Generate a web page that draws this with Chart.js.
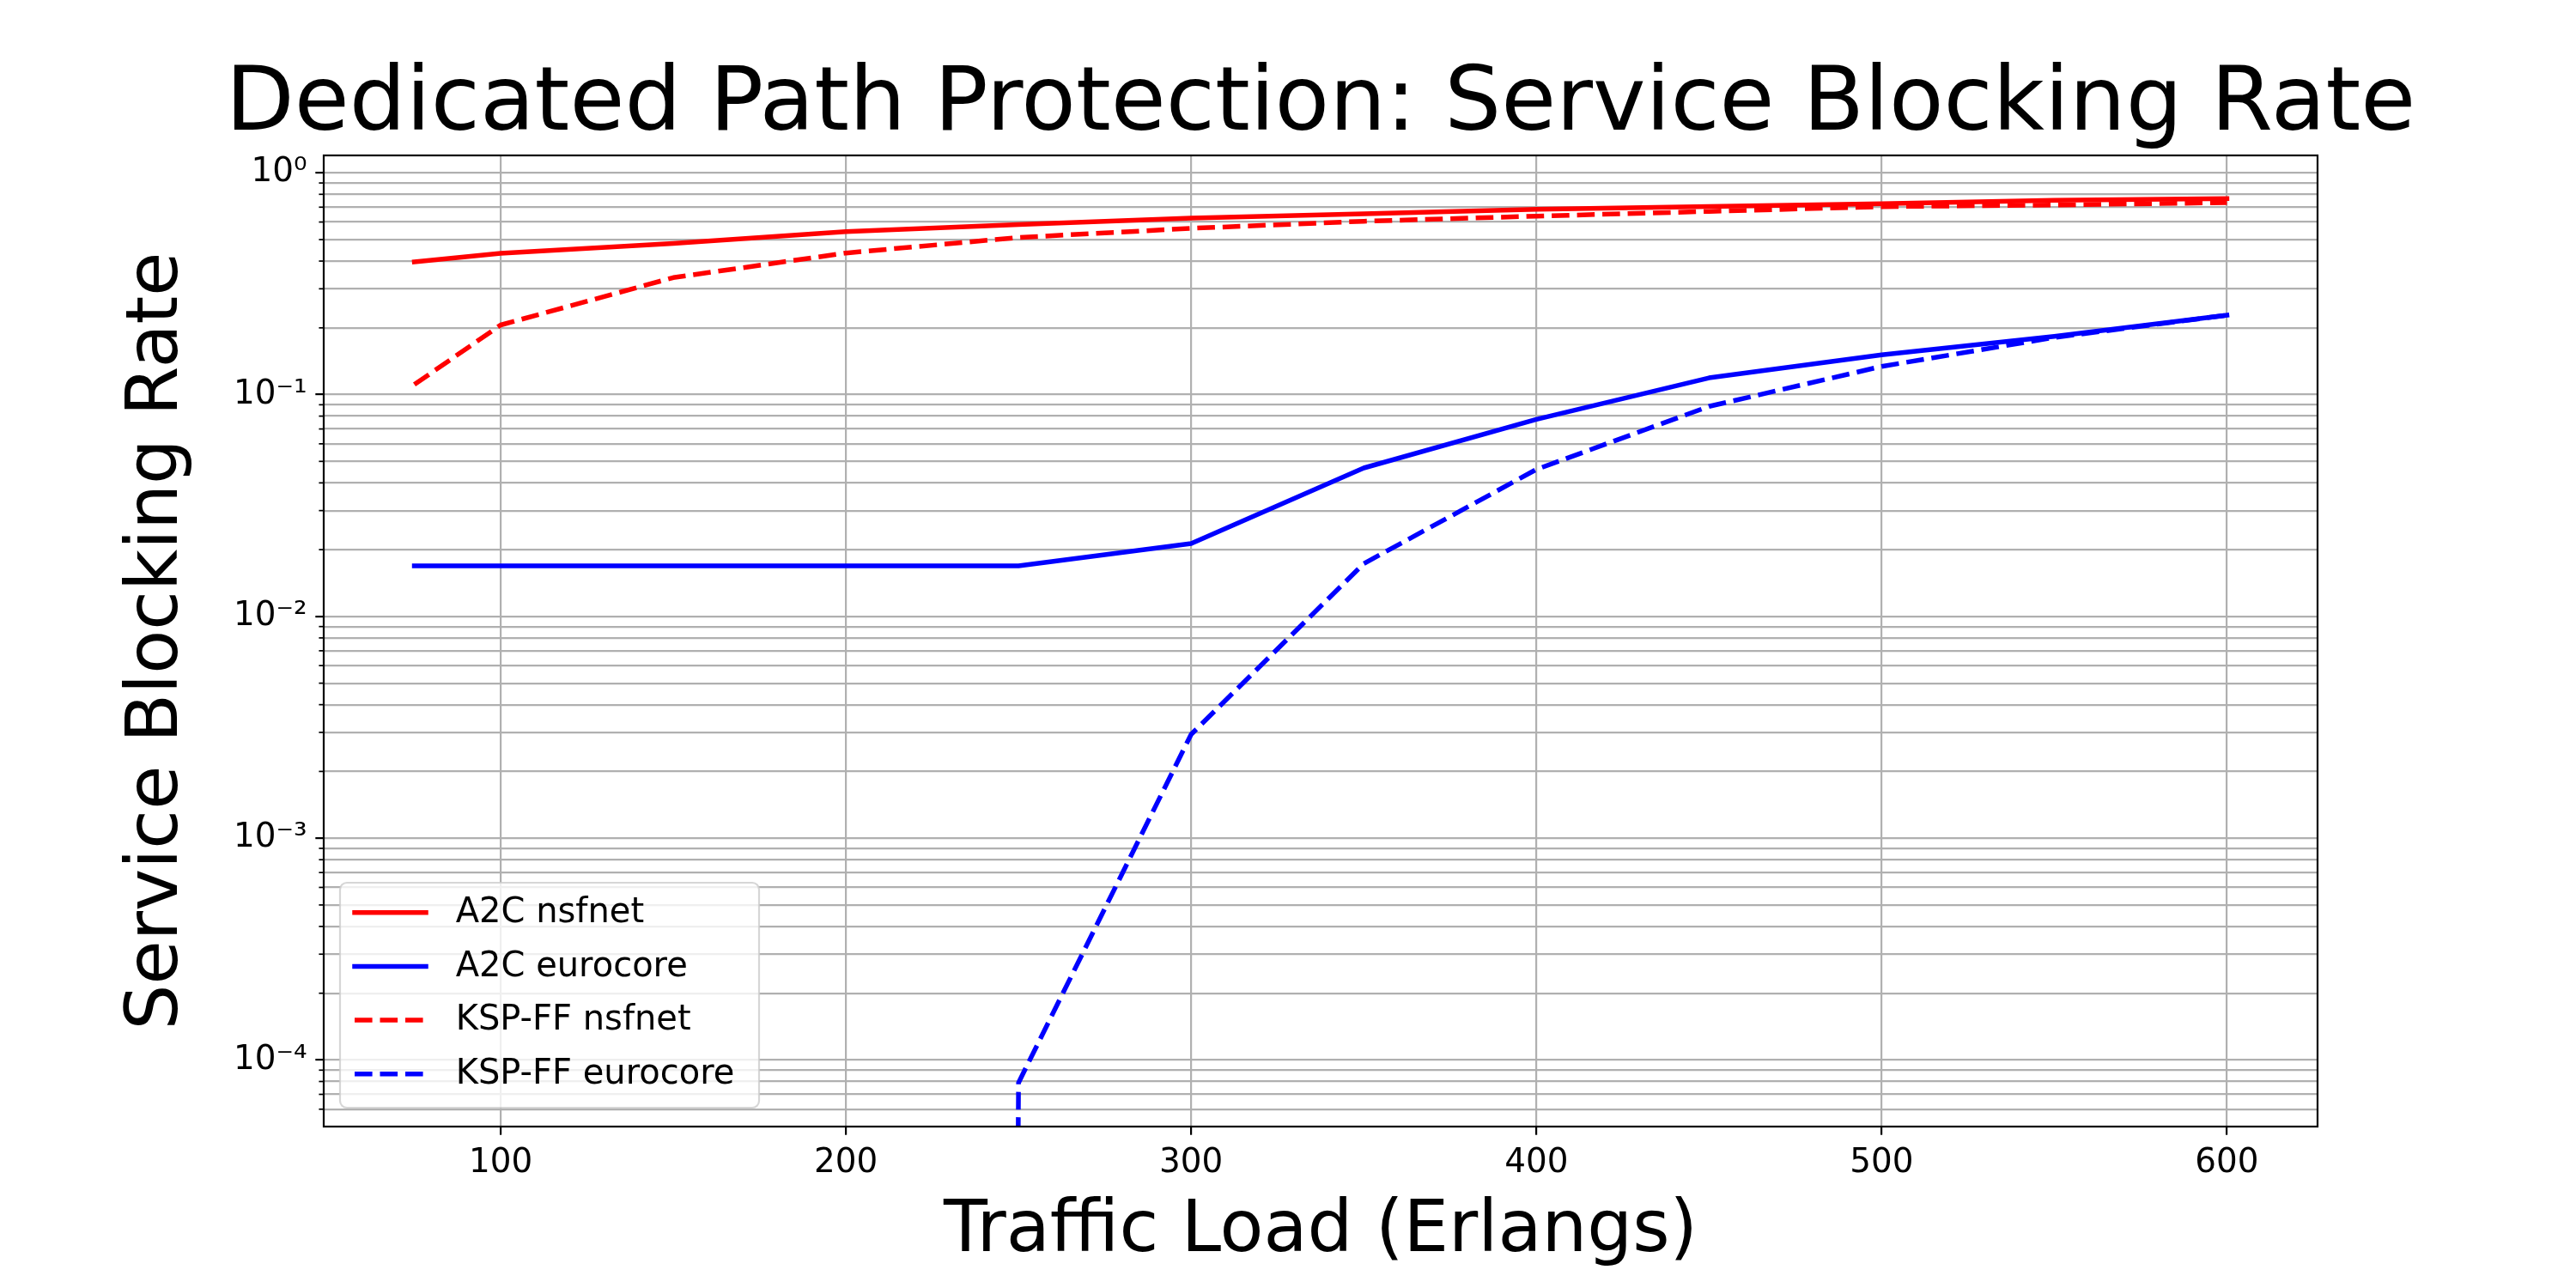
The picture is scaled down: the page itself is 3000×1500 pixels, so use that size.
<!DOCTYPE html>
<html><head><meta charset="utf-8">
<script src="https://cdn.jsdelivr.net/npm/chart.js@4.4.1/dist/chart.umd.min.js"></script>
<style>html,body{margin:0;padding:0;background:#fff;} #wrap{width:3000px;height:1500px;}</style>
</head><body><div id="wrap"><canvas id="c" width="3000" height="1500"></canvas></div>
<script>
// ---- data ----
const loads = [75, 100, 150, 200, 250, 300, 350, 400, 450, 500, 550, 600];
const a2cNsfnet   = [0.397, 0.434, 0.480, 0.543, 0.584, 0.625, 0.653, 0.684, 0.705, 0.726, 0.752, 0.765];
const a2cEurocore = [0.0169, 0.0169, 0.0169, 0.0169, 0.0169, 0.0213, 0.0467, 0.0774, 0.119, 0.151, 0.183, 0.228];
const kspNsfnet   = [0.111, 0.206, 0.337, 0.435, 0.511, 0.562, 0.605, 0.638, 0.670, 0.704, 0.716, 0.734];
const kspEurocore = [0, 0, 0, 0, 0.0000790, 0.00294, 0.0173, 0.0460, 0.0885, 0.134, 0.181, 0.228];
const seriesLabels = ['A2C nsfnet', 'A2C eurocore', 'KSP-FF nsfnet', 'KSP-FF eurocore'];
const xTickValues = [100, 200, 300, 400, 500, 600];
const yDecadeExponents = [-5, -4, -3, -2, -1, 0];
const titleText = 'Dedicated Path Protection: Service Blocking Rate';
const xTitle = 'Traffic Load (Erlangs)';
const yTitle = 'Service Blocking Rate';

// axis limits (matplotlib auto margins)
const xMin = 48.75, xMax = 626.25;
const yMin = 5.01e-5, yMax = 1.198;

const FONT = 'DejaVu Sans';
const SUP = {'-': '\u207B', '0': '\u2070', '1': '\u00B9', '2': '\u00B2', '3': '\u00B3', '4': '\u2074', '5': '\u2075'};
const supStr = s => String(s).split('').map(c => SUP[c] || c).join('');

// log axis clips non-positive values (like matplotlib): map 0 to the smallest positive double
const toPts = arr => loads.map((x, i) => ({x, y: arr[i] > 0 ? arr[i] : Number.MIN_VALUE}));

const LW = 5.5;
const DASH = [20.6, 8.9];
const datasets = [
  {label: seriesLabels[0], data: toPts(a2cNsfnet), borderColor: '#ff0000', borderDash: [], order: 3},
  {label: seriesLabels[1], data: toPts(a2cEurocore), borderColor: '#0000ff', borderDash: [], order: 2},
  {label: seriesLabels[2], data: toPts(kspNsfnet), borderColor: '#ff0000', borderDash: DASH, order: 1},
  {label: seriesLabels[3], data: toPts(kspEurocore), borderColor: '#0000ff', borderDash: DASH, order: 0},
].map(d => Object.assign(d, {borderWidth: LW, pointRadius: 0, fill: false, tension: 0,
  borderJoinStyle: 'round', borderCapStyle: d.borderDash.length ? 'butt' : 'square'}));

const yTickValues = [];
yDecadeExponents.forEach(e => {
  for (let m = 1; m <= 9; m++) {
    const v = m * Math.pow(10, e);
    if (v >= yMin && v <= yMax) yTickValues.push({value: v, m, e});
  }
});
const isMajorY = v => { const t = yTickValues.find(t => t.value === v); return t && t.m === 1; };

const mplPlugin = {
  id: 'mplExtras',
  afterLayout(chart) {
    // matplotlib centres the title over the axes, not the figure
    const ca = chart.chartArea, tb = chart.titleBlock;
    if (tb) {
      const c = (ca.left + ca.right) / 2, half = 1450;
      tb.left = c - half; tb.right = c + half; tb.width = 2 * half;
    }
  },
  afterDatasetsDraw(chart) {
    const {ctx, chartArea: ca} = chart;
    const ys = chart.scales.y;
    ctx.save();
    // minor y ticks
    ctx.strokeStyle = '#000';
    ctx.lineWidth = 1.7;
    yTickValues.forEach(t => {
      if (t.m === 1) return;
      const py = ys.getPixelForValue(t.value);
      ctx.beginPath(); ctx.moveTo(ca.left - 5.6, py); ctx.lineTo(ca.left, py); ctx.stroke();
    });
    // frame
    ctx.lineWidth = 2.2;
    ctx.strokeRect(ca.left, ca.top, ca.right - ca.left, ca.bottom - ca.top);
    // legend (lower left, inside axes)
    const fs = 40;
    const bw = 488, bh = 262;
    const bx = ca.left + 19, by = ca.bottom - 22 - bh;
    const r = 8;
    ctx.beginPath();
    ctx.moveTo(bx + r, by);
    ctx.lineTo(bx + bw - r, by); ctx.arcTo(bx + bw, by, bx + bw, by + r, r);
    ctx.lineTo(bx + bw, by + bh - r); ctx.arcTo(bx + bw, by + bh, bx + bw - r, by + bh, r);
    ctx.lineTo(bx + r, by + bh); ctx.arcTo(bx, by + bh, bx, by + bh - r, r);
    ctx.lineTo(bx, by + r); ctx.arcTo(bx, by, bx + r, by, r);
    ctx.closePath();
    ctx.fillStyle = 'rgba(255,255,255,0.8)';
    ctx.fill();
    ctx.strokeStyle = 'rgba(204,204,204,0.8)';
    ctx.lineWidth = 2.2;
    ctx.stroke();
    ctx.font = fs + 'px "' + FONT + '"';
    ctx.textBaseline = 'middle';
    ctx.textAlign = 'left';
    chart.data.datasets.forEach((d, i) => {
      const cy = by + 34.7 + i * 62.7;
      ctx.strokeStyle = d.borderColor;
      ctx.lineWidth = LW;
      ctx.setLineDash(d.borderDash);
      ctx.lineCap = d.borderDash.length ? 'butt' : 'square';
      ctx.beginPath();
      ctx.moveTo(bx + 17, cy); ctx.lineTo(bx + 100, cy);
      ctx.stroke();
      ctx.setLineDash([]);
      ctx.fillStyle = '#000';
      ctx.fillText(d.label, bx + 134.7, cy + 1);
    });
    ctx.restore();
  }
};

new Chart(document.getElementById('c'), {
  type: 'line',
  data: {datasets},
  options: {
    responsive: false,
    animation: false,
    devicePixelRatio: 1,
    layout: {padding: {left: 0, right: 301, top: 0, bottom: 0}},
    plugins: {
      legend: {display: false},
      tooltip: {enabled: false},
      title: {display: true, fullSize: true, text: titleText, color: '#000',
        font: {family: FONT, size: 104, weight: 'normal', lineHeight: 1.0},
        padding: {top: 72, bottom: 5}}
    },
    scales: {
      x: {
        type: 'linear', min: xMin, max: xMax, bounds: 'data',
        afterBuildTicks: s => { s.ticks = xTickValues.map(v => ({value: v})); },
        afterFit: s => { s.height = 188; },
        ticks: {color: '#000', font: {family: FONT, size: 38.9}, padding: 10, autoSkip: false,
          maxRotation: 0, callback: v => String(v)},
        grid: {color: '#b0b0b0', lineWidth: 2.2, drawTicks: true, tickLength: 9.7,
          tickColor: '#000', tickWidth: 2.2},
        border: {display: false},
        title: {display: true, text: xTitle, color: '#000',
          font: {family: FONT, size: 83.3, weight: 'normal', lineHeight: 1.2},
          padding: {top: 0, bottom: 15}}
      },
      y: {
        type: 'logarithmic', min: yMin, max: yMax, bounds: 'data',
        afterBuildTicks: s => { s.ticks = yTickValues.map(t => ({value: t.value, major: t.m === 1})); },
        afterFit: s => { s.width = 377; },
        ticks: {color: '#000', font: {family: FONT, size: 38.9}, padding: 9.7, autoSkip: false,
          callback: v => { const t = yTickValues.find(t => t.value === v); return (t && t.m === 1) ? '10' + supStr(t.e) : ''; }},
        grid: {color: '#b0b0b0', lineWidth: 2.2, drawTicks: true, tickLength: 9.7,
          tickColor: c => (c.tick && isMajorY(c.tick.value)) ? '#000' : 'rgba(0,0,0,0)', tickWidth: 2.2},
        border: {display: false},
        title: {display: true, text: yTitle, color: '#000',
          font: {family: FONT, size: 83.3, weight: 'normal', lineHeight: 1.2},
          padding: {top: 134, bottom: 0}}
      }
    }
  },
  plugins: [mplPlugin]
});
</script>
</body></html>
